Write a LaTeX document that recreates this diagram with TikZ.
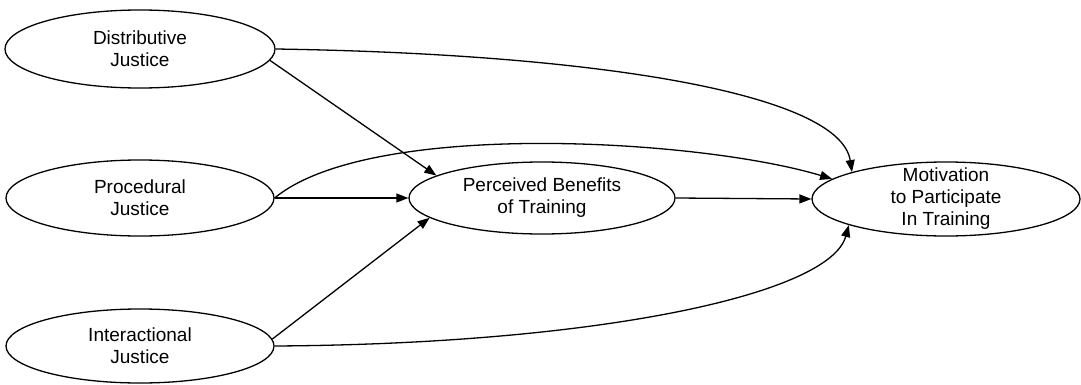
\documentclass[tikz,border=0pt]{standalone}
\usepackage{fontspec}
\setmainfont{Liberation Sans}
\usetikzlibrary{shapes.geometric,arrows.meta}
\tikzset{
  ell/.style={draw, ellipse, line width=1.3pt, inner sep=0pt, inner ysep=-12pt,
    align=center, font=\fontsize{19}{22}\selectfont},
  conn/.style={line width=1.3pt, -{Triangle[length=12pt,width=9pt]}}
}
\begin{document}
\begin{tikzpicture}[x=1pt,y=1pt]
\useasboundingbox (0,0) rectangle (1081,384);
\node[ell, minimum width=270pt, minimum height=78pt] (D) at (140,335) {Distributive\\Justice};
\node[ell, minimum width=268pt, minimum height=76pt] (P) at (140,186) {Procedural\\Justice};
\node[ell, minimum width=268pt, minimum height=74pt] (I) at (140,38) {Interactional\\Justice};
\node[ell, minimum width=266pt, minimum height=72pt] (B) at (542,186) {Perceived Benefits\\of Training};
\node[ell, minimum width=268pt, minimum height=74pt] (M) at (946,185) {Motivation\\to Participate\\In Training};

\draw[conn] (D.0) .. controls (600,330) and (840,290) .. (M.164);
\draw[conn] (D.-5) -- (B.168);
\draw[conn] (P.0) .. controls (370,265) and (700,245) .. (M.170);
\draw[conn] (P.0) -- (B.180);
\draw[conn] (B.0) -- (M.180);
\draw[conn] (I.3) -- (B.190);
\draw[conn] (I.0) .. controls (600,40) and (830,90) .. (M.195);
\end{tikzpicture}
\end{document}
